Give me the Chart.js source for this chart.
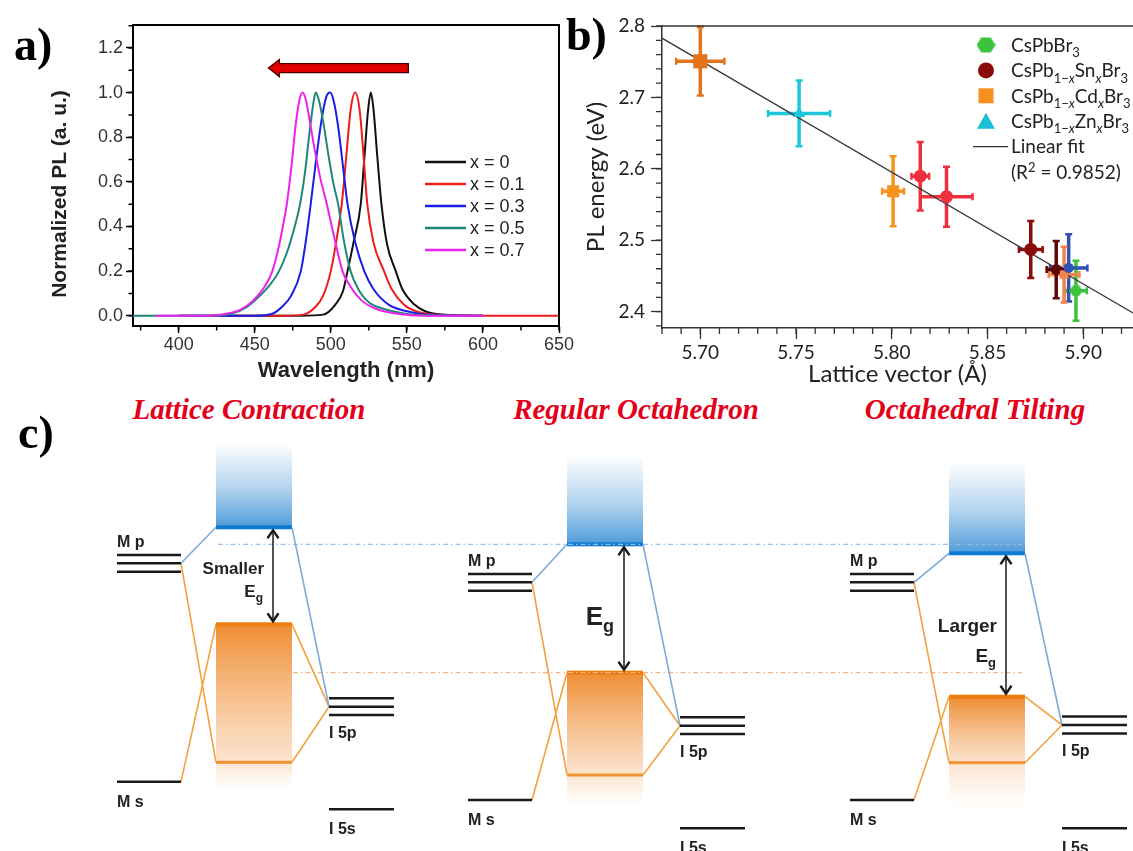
<!DOCTYPE html>
<html>
<head>
<meta charset="utf-8">
<title>PL shift and band-gap schemes</title>
<script src="https://cdn.jsdelivr.net/npm/chart.js@4.4.1/dist/chart.umd.min.js"></script>
<style>
  html, body { margin: 0; padding: 0; background: #fff; }
  #page { position: relative; width: 1133px; height: 851px; overflow: hidden; }
  #page canvas { position: absolute; }
  .panel-tag { position: absolute; font: bold 46px "Liberation Serif", serif; line-height: 1; color: #000; }
  .scheme-title { position: absolute; top: 395px; font: italic bold 29px "Liberation Serif", serif; color: #e4001b;
                  white-space: nowrap; transform: translateX(-50%); line-height: 1; }
</style>
</head>
<body>
<div id="page">
  <canvas id="chartA" width="585" height="392" style="left:0;top:0"></canvas>
  <canvas id="chartB" width="573" height="392" style="left:560px;top:0"></canvas>
  <canvas id="chartC" width="1133" height="421" style="left:0;top:430px"></canvas>
  <div class="panel-tag" style="left:14px;top:22px">a)</div>
  <div class="panel-tag" style="left:566px;top:12px">b)</div>
  <div class="panel-tag" style="left:18px;top:410px">c)</div>
  <div class="scheme-title" style="left:249px">Lattice Contraction</div>
  <div class="scheme-title" style="left:636px">Regular Octahedron</div>
  <div class="scheme-title" style="left:975px">Octahedral Tilting</div>
</div>
<script>
// =====================================================================
// a) normalized PL spectra, one curve per composition
// =====================================================================
var wlX0 = [400, 480, 495, 503, 508, 511, 515, 519.7, 522, 524.5, 526.3, 528, 530.5, 533.3, 537, 542.7, 547, 555, 562, 575, 600];
var plX0 = [0, 0, 0.005, 0.05, 0.11, 0.2, 0.33, 0.5, 0.7, 0.92, 1.0, 0.93, 0.72, 0.5, 0.32, 0.2, 0.12, 0.05, 0.02, 0.004, 0];

var wlX01 = [420, 470, 482, 490, 495, 500, 503.5, 507.2, 510, 513, 516, 519, 521.5, 524, 528, 535, 540, 548, 556, 570, 600, 650];
var plX01 = [0, 0, 0.005, 0.04, 0.09, 0.2, 0.33, 0.5, 0.7, 0.92, 1.0, 0.92, 0.72, 0.5, 0.33, 0.2, 0.12, 0.05, 0.02, 0.004, 0, 0];

var wlX03 = [400, 450, 462, 468, 474, 480.3, 483.5, 486.8, 490, 494, 497, 499.6, 502, 505, 508, 511, 516, 522, 528, 538, 550, 565, 600];
var plX03 = [0, 0, 0.01, 0.04, 0.09, 0.2, 0.33, 0.5, 0.68, 0.88, 0.98, 1.0, 0.96, 0.84, 0.67, 0.5, 0.33, 0.2, 0.12, 0.05, 0.02, 0.004, 0];

var wlX05 = [370, 420, 435, 445, 452, 459, 466, 471, 475.5, 479.8, 483, 486, 488.5, 490.1, 492, 495, 498, 501.5, 504.8, 508.5, 513, 518, 525, 535, 548, 565, 600];
var plX05 = [0, 0, 0.01, 0.04, 0.08, 0.13, 0.2, 0.28, 0.38, 0.5, 0.64, 0.82, 0.95, 1.0, 0.97, 0.87, 0.74, 0.6, 0.5, 0.34, 0.2, 0.12, 0.06, 0.03, 0.01, 0.002, 0];

var wlX07 = [385, 420, 432, 440, 446, 452, 456.5, 461.6, 465.5, 468.5, 471.1, 474, 477, 479.5, 481.4, 483.5, 486, 489, 493, 497.4, 502, 507.7, 513, 520, 530, 545, 560, 600];
var plX07 = [0, 0, 0.01, 0.025, 0.05, 0.09, 0.13, 0.2, 0.3, 0.4, 0.5, 0.66, 0.86, 0.97, 1.0, 0.97, 0.88, 0.76, 0.62, 0.5, 0.36, 0.2, 0.13, 0.07, 0.03, 0.008, 0, 0];

var specLabels = ['x = 0', 'x = 0.1', 'x = 0.3', 'x = 0.5', 'x = 0.7'];
var specWl = [wlX0, wlX01, wlX03, wlX05, wlX07];
var specPl = [plX0, plX01, plX03, plX05, plX07];
var specColors = ['#111111', '#ee1c1c', '#1c1ce6', '#1f8778', '#ee22ee'];

var wlTicks = [400, 450, 500, 550, 600, 650];
var plTicks = [0, 0.2, 0.4, 0.6, 0.8, 1.0, 1.2];
var shiftArrow = [551, 459];   // blue-shift arrow, from / to (nm)
var shiftArrowLevel = 1.11;

// =====================================================================
// b) PL energy vs lattice vector, with error bars
// =====================================================================
var latCs = [5.8962];            var eCs = [2.4292];
var errXCs = [0.0057];           var errYCs = [0.042];
var latSn = [5.8726, 5.8859];    var eSn = [2.487, 2.4588];
var errXSn = [0.0062, 0.005];    var errYSn = [0.04, 0.04];
var latCd = [5.700, 5.8007, 5.890]; var eCd = [2.7506, 2.5685, 2.4518];
var errXCd = [0.0126, 0.0057, 0.008]; var errYCd = [0.048, 0.049, 0.039];
var latZn = [5.7516];            var eZn = [2.6776];
var errXZn = [0.0162];           var errYZn = [0.046];
var latRed = [5.8149, 5.8286];   var eRed = [2.5896, 2.5609];
var errXRed = [0.0046, 0.0136];  var errYRed = [0.048, 0.042];
var latBlue = [5.8924];          var eBlue = [2.4612];
var errXBlue = [0.0098];         var errYBlue = [0.047];
var fitLat = [5.68, 5.926];      var fitE = [2.783, 2.398];

var latTicks = [5.70, 5.75, 5.80, 5.85, 5.90];
var eTicks = [2.4, 2.5, 2.6, 2.7, 2.8];

// =====================================================================
// c) level schemes (energies in arbitrary units, higher = up)
// =====================================================================
var metalP  = [287.7, 268.7, 268.7];
var metalS  = [69.3, 51, 51];
var iodineP = [144.3, 125.3, 126];
var iodineS = [41.7, 22.7, 22.7];
var cbMin   = [323.7, 306.7, 297.7];
var cbTop   = [408, 396, 389];
var vbMax   = [226.7, 178.3, 154.3];
var vbLow   = [88.7, 76, 88.3];
var vbTail  = [61, 44.3, 41];
var gapWords = ['Smaller', '', 'Larger'];

Chart.defaults.font.family = '"Liberation Sans", Arial, sans-serif';
Chart.defaults.animation = false;

function pts(xs, ys) { return xs.map(function (v, i) { return { x: v, y: ys[i] }; }); }

// fixed axis box, no extra room reserved for edge labels
function fixedBox(size) {
  return function (s) {
    if (s.isHorizontal()) s.height = size; else s.width = size;
    s.paddingLeft = s.paddingRight = s.paddingTop = s.paddingBottom = 0;
  };
}

// ---------- shared plugins ----------
var minorTicks = {
  id: 'minorTicks',
  afterDraw: function (chart, args, o) {
    var ctx = chart.ctx, sx = chart.scales.x, sy = chart.scales.y, k;
    ctx.save();
    ctx.strokeStyle = o.color; ctx.lineWidth = o.width;
    ctx.beginPath();
    for (k = Math.ceil(sx.min / o.xStep - 1e-6); k * o.xStep <= sx.max + 1e-9; k++) {
      var px = sx.getPixelForValue(k * o.xStep);
      ctx.moveTo(px, sx.top); ctx.lineTo(px, sx.top + o.length);
    }
    for (k = Math.ceil(sy.min / o.yStep - 1e-6); k * o.yStep <= sy.max + 1e-9; k++) {
      var py = sy.getPixelForValue(k * o.yStep);
      ctx.moveTo(sy.right, py); ctx.lineTo(sy.right - o.length, py);
    }
    ctx.stroke();
    ctx.restore();
  }
};

var frame = {
  id: 'frame',
  afterDraw: function (chart, args, o) {
    var ctx = chart.ctx, a = chart.chartArea;
    ctx.save();
    ctx.strokeStyle = o.color; ctx.lineWidth = o.width;
    ctx.beginPath();
    ctx.moveTo(a.left, a.top); ctx.lineTo(a.right, a.top);
    if (o.right) ctx.lineTo(a.right, a.bottom);
    ctx.stroke();
    ctx.restore();
  }
};

// rotated caption for the value axis
var yCaption = {
  id: 'yCaption',
  afterDraw: function (chart, args, o) {
    var ctx = chart.ctx;
    ctx.save();
    ctx.translate(o.x, o.y); ctx.rotate(-Math.PI / 2);
    ctx.font = o.font; ctx.fillStyle = o.color;
    ctx.textAlign = 'center'; ctx.textBaseline = 'middle';
    ctx.fillText(o.text, 0, 0);
    ctx.restore();
  }
};

// text with sub/superscripts: parts = [[text, kind]], kind '' | 's' | 'si' | 'p'
function drawRich(ctx, parts, x, y, size, family, color) {
  var cx = x;
  ctx.fillStyle = color; ctx.textBaseline = 'alphabetic'; ctx.textAlign = 'left';
  parts.forEach(function (p) {
    var t = p[0], k = p[1];
    var fs = k ? Math.round(size * 0.68) : size;
    ctx.font = (k.indexOf('i') >= 0 ? 'italic ' : '') + fs + 'px ' + family;
    var dy = k.charAt(0) === 's' ? size * 0.28 : (k === 'p' ? -size * 0.38 : 0);
    ctx.fillText(t, cx, y + dy);
    cx += ctx.measureText(t).width;
  });
  return cx - x;
}

// ---------- panel a ----------
var specLegend = {
  id: 'specLegend',
  afterDraw: function (chart) {
    var ctx = chart.ctx;
    ctx.save();
    specLabels.forEach(function (lab, i) {
      var y = 162 + i * 22;
      ctx.strokeStyle = specColors[i]; ctx.lineWidth = 2.5;
      ctx.beginPath(); ctx.moveTo(425, y); ctx.lineTo(466, y); ctx.stroke();
      ctx.fillStyle = '#222'; ctx.font = '18px "Liberation Sans"';
      ctx.textBaseline = 'middle'; ctx.textAlign = 'left';
      ctx.fillText(lab, 470, y + 1);
    });
    ctx.restore();
  }
};

var blueShiftArrow = {
  id: 'blueShiftArrow',
  afterDraw: function (chart) {
    var ctx = chart.ctx, sx = chart.scales.x, sy = chart.scales.y;
    var xt = sx.getPixelForValue(shiftArrow[0]), xh = sx.getPixelForValue(shiftArrow[1]);
    var yc = sy.getPixelForValue(shiftArrowLevel);
    var hb = 4.5, hh = 8.5, hl = 11;
    ctx.save();
    ctx.beginPath();
    ctx.moveTo(xt, yc - hb); ctx.lineTo(xh + hl, yc - hb); ctx.lineTo(xh + hl, yc - hh);
    ctx.lineTo(xh, yc); ctx.lineTo(xh + hl, yc + hh); ctx.lineTo(xh + hl, yc + hb);
    ctx.lineTo(xt, yc + hb); ctx.closePath();
    ctx.fillStyle = '#e10000'; ctx.fill();
    ctx.strokeStyle = '#4a0000'; ctx.lineWidth = 1.3; ctx.stroke();
    ctx.restore();
  }
};

new Chart(document.getElementById('chartA'), {
  type: 'scatter',
  data: {
    datasets: specLabels.map(function (lab, i) {
      return {
        label: lab, data: pts(specWl[i], specPl[i]), showLine: true,
        borderColor: specColors[i], borderWidth: 2, pointRadius: 0,
        cubicInterpolationMode: 'monotone', order: 5 - i
      };
    })
  },
  options: {
    responsive: false, events: [],
    layout: { autoPadding: false, padding: { left: 0, top: 25, right: 26, bottom: 0 } },
    scales: {
      x: {
        type: 'linear', min: 370, max: 650,
        afterBuildTicks: function (s) { s.ticks = wlTicks.map(function (v) { return { value: v }; }); },
        afterFit: fixedBox(66),
        grid: { drawOnChartArea: false, tickLength: 7, tickWidth: 1.5, tickColor: '#000' },
        border: { color: '#000', width: 2 },
        ticks: { color: '#333', font: { size: 18 }, padding: 1, maxRotation: 0 },
        title: { display: true, text: 'Wavelength (nm)', color: '#222',
                 font: { size: 22, weight: 'bold' }, padding: { top: 0, bottom: 8 } }
      },
      y: {
        type: 'linear', min: -0.046, max: 1.303,
        afterBuildTicks: function (s) { s.ticks = plTicks.map(function (v) { return { value: v }; }); },
        afterFit: fixedBox(133),
        grid: { drawOnChartArea: false, tickLength: 7, tickWidth: 1.5, tickColor: '#000' },
        border: { color: '#000', width: 2 },
        ticks: { color: '#333', font: { size: 18 }, padding: 3, callback: function (v) { return v.toFixed(1); } }
      }
    },
    plugins: {
      legend: { display: false }, tooltip: { enabled: false },
      minorTicks: { xStep: 25, yStep: 0.1, length: 4.5, width: 1.5, color: '#000' },
      frame: { color: '#000', width: 2, right: true },
      yCaption: { text: 'Normalized PL (a. u.)', x: 60, y: 194, font: 'bold 21px "Liberation Sans"', color: '#222' }
    }
  },
  plugins: [minorTicks, frame, yCaption, specLegend, blueShiftArrow]
});

// ---------- panel b ----------
function hexMarker(size, color) {
  var c = document.createElement('canvas');
  c.width = c.height = size;
  var g = c.getContext('2d'), r = size / 2;
  g.fillStyle = color;
  g.beginPath();
  for (var k = 0; k < 6; k++) {
    var a = Math.PI / 3 * k;
    var px = r + r * Math.cos(a), py = r + r * 0.92 * Math.sin(a);
    if (k) g.lineTo(px, py); else g.moveTo(px, py);
  }
  g.closePath(); g.fill();
  return c;
}
var hexPoint = hexMarker(13, '#3cc23c');
var hexLegend = hexMarker(19, '#3cc23c');

var errorBars = {
  id: 'errorBars',
  beforeDatasetsDraw: function (chart) {
    var ctx = chart.ctx, sx = chart.scales.x, sy = chart.scales.y;
    ctx.save();
    chart.data.datasets.forEach(function (ds) {
      if (!ds.errX) return;
      ds.data.forEach(function (p, j) {
        var col = Array.isArray(ds.pointBackgroundColor) ? ds.pointBackgroundColor[j] : ds.pointBackgroundColor;
        var cx = sx.getPixelForValue(p.x), cy = sy.getPixelForValue(p.y);
        var x0 = sx.getPixelForValue(p.x - ds.errX[j]), x1 = sx.getPixelForValue(p.x + ds.errX[j]);
        var y0 = sy.getPixelForValue(p.y - ds.errY[j]), y1 = sy.getPixelForValue(p.y + ds.errY[j]);
        ctx.strokeStyle = col;
        ctx.lineWidth = 3.5;
        ctx.beginPath();
        ctx.moveTo(x0, cy); ctx.lineTo(x1, cy);
        ctx.moveTo(cx, y0); ctx.lineTo(cx, y1);
        ctx.stroke();
        ctx.lineWidth = 2.5;
        ctx.beginPath();
        ctx.moveTo(x0, cy - 3.5); ctx.lineTo(x0, cy + 3.5);
        ctx.moveTo(x1, cy - 3.5); ctx.lineTo(x1, cy + 3.5);
        ctx.moveTo(cx - 3.5, y0); ctx.lineTo(cx + 3.5, y0);
        ctx.moveTo(cx - 3.5, y1); ctx.lineTo(cx + 3.5, y1);
        ctx.stroke();
      });
    });
    ctx.restore();
  }
};

var compLegend = {
  id: 'compLegend',
  afterDraw: function (chart) {
    var ctx = chart.ctx, fam = 'Lato, "Open Sans", sans-serif', fs = 19;
    var mx = 426, tx = 451;
    var rows = [45, 70.4, 95.8, 121.2, 146.6, 172];
    ctx.save();
    ctx.drawImage(hexLegend, mx - 9.5, rows[0] - 9.5);
    ctx.fillStyle = '#8b0b0b';
    ctx.beginPath(); ctx.arc(mx, rows[1], 8, 0, Math.PI * 2); ctx.fill();
    ctx.fillStyle = '#f7901e';
    ctx.fillRect(mx - 7.5, rows[2] - 7.5, 15, 15);
    ctx.fillStyle = '#19bfd6';
    ctx.beginPath(); ctx.moveTo(mx, rows[3] - 8.5); ctx.lineTo(mx + 9, rows[3] + 7.5); ctx.lineTo(mx - 9, rows[3] + 7.5); ctx.closePath(); ctx.fill();
    ctx.strokeStyle = '#333'; ctx.lineWidth = 1.3;
    ctx.beginPath(); ctx.moveTo(413, rows[4]); ctx.lineTo(448, rows[4]); ctx.stroke();
    var base = 6.8, col = '#222';
    drawRich(ctx, [['CsPbBr', ''], ['3', 's']], tx, rows[0] + base, fs, fam, col);
    drawRich(ctx, [['CsPb', ''], ['1\u2212', 's'], ['x', 'si'], ['Sn', ''], ['x', 'si'], ['Br', ''], ['3', 's']], tx, rows[1] + base, fs, fam, col);
    drawRich(ctx, [['CsPb', ''], ['1\u2212', 's'], ['x', 'si'], ['Cd', ''], ['x', 'si'], ['Br', ''], ['3', 's']], tx, rows[2] + base, fs, fam, col);
    drawRich(ctx, [['CsPb', ''], ['1\u2212', 's'], ['x', 'si'], ['Zn', ''], ['x', 'si'], ['Br', ''], ['3', 's']], tx, rows[3] + base, fs, fam, col);
    drawRich(ctx, [['Linear fit', '']], tx, rows[4] + base, fs, fam, col);
    drawRich(ctx, [['(R', ''], ['2', 'p'], [' = 0.9852)', '']], tx, rows[5] + base, fs, fam, col);
    ctx.restore();
  }
};

new Chart(document.getElementById('chartB'), {
  type: 'scatter',
  data: {
    datasets: [
      { label: 'CsPbBr3', data: pts(latCs, eCs), errX: errXCs, errY: errYCs,
        pointStyle: hexPoint, pointBackgroundColor: '#3cc23c', pointBorderWidth: 0 },
      { label: 'blue set', data: pts(latBlue, eBlue), errX: errXBlue, errY: errYBlue,
        pointStyle: 'circle', pointRadius: 5, pointBackgroundColor: '#2f52b4', pointBorderWidth: 0 },
      { label: 'CsPb1-xCdxBr3', data: pts(latCd, eCd), errX: errXCd, errY: errYCd,
        pointStyle: 'rect', pointRadius: [10, 8.5, 6], pointBackgroundColor: ['#e3741b', '#f7921f', '#f4844a'], pointBorderWidth: 0 },
      { label: 'CsPb1-xSnxBr3', data: pts(latSn, eSn), errX: errXSn, errY: errYSn,
        pointStyle: 'circle', pointRadius: [6.5, 5.5], pointBackgroundColor: ['#8b0b0b', '#5e0606'], pointBorderWidth: 0 },
      { label: 'red set', data: pts(latRed, eRed), errX: errXRed, errY: errYRed,
        pointStyle: 'circle', pointRadius: 6.5, pointBackgroundColor: '#ee2f3e', pointBorderWidth: 0 },
      { label: 'CsPb1-xZnxBr3', data: pts(latZn, eZn), errX: errXZn, errY: errYZn,
        pointStyle: 'triangle', pointRadius: 7, pointBackgroundColor: '#1ec6da', pointBorderWidth: 0 },
      { label: 'Linear fit', data: pts(fitLat, fitE), showLine: true, pointRadius: 0,
        borderColor: '#3a3a3a', borderWidth: 1.3 }
    ]
  },
  options: {
    responsive: false, events: [],
    layout: { autoPadding: false, padding: { left: 0, top: 26, right: 0, bottom: 0 } },
    scales: {
      x: {
        type: 'linear', min: 5.68, max: 5.926,
        afterBuildTicks: function (s) { s.ticks = latTicks.map(function (v) { return { value: v }; }); },
        afterFit: fixedBox(64),
        grid: { drawOnChartArea: false, tickLength: 11, tickWidth: 1.3, tickColor: '#333' },
        border: { color: '#333', width: 1.5 },
        ticks: { color: '#222', font: { family: 'Lato', size: 19 }, padding: 2, maxRotation: 0,
                 callback: function (v) { return v.toFixed(2); } },
        title: { display: true, text: 'Lattice vector (\u00C5)', color: '#222',
                 font: { family: 'Lato', size: 24 }, padding: { top: 0, bottom: 3 } }
      },
      y: {
        type: 'linear', min: 2.377, max: 2.8,
        afterBuildTicks: function (s) { s.ticks = eTicks.map(function (v) { return { value: v }; }); },
        afterFit: fixedBox(102),
        grid: { drawOnChartArea: false, tickLength: 11, tickWidth: 1.3, tickColor: '#333' },
        border: { color: '#333', width: 1.5 },
        ticks: { color: '#222', font: { family: 'Lato', size: 19 }, padding: 6,
                 callback: function (v) { return v.toFixed(1); } },
        title: { display: true, text: 'PL energy (eV)', color: '#222',
                 font: { family: 'Lato', size: 24 }, padding: { top: 22, bottom: 0 } }
      }
    },
    plugins: {
      legend: { display: false }, tooltip: { enabled: false },
      minorTicks: { xStep: 0.01, yStep: 0.02, length: 6, width: 1.3, color: '#333' },
      frame: { color: '#333', width: 1.5, right: false }
    }
  },
  plugins: [errorBars, minorTicks, frame, compLegend]
});

// ---------- panel c ----------
var subGap = 8.4;                       // spacing of the three p sub-levels
var colLeft = [117, 468, 850];          // left edge of each scheme
var metalW = 64, bandL = 99, bandR = 175, iodL = 212, iodR = 277, arrowDx = 156;
var gapLabelE = [[281.7, 258.3], [232.7], [224.3, 194.3]];
var gapLabelSize = [17, 26, 19];

function seg(list, x0, y0, x1, y1) { list.push({ x: x0, y: y0 }, { x: x1, y: y1 }, { x: x1, y: null }); }

var levelSegs = [], cbLinks = [], vbLinks = [];
colLeft.forEach(function (L, i) {
  [-1, 0, 1].forEach(function (d) {
    seg(levelSegs, L, metalP[i] + d * subGap, L + metalW, metalP[i] + d * subGap);
    seg(levelSegs, L + iodL, iodineP[i] + d * subGap, L + iodR, iodineP[i] + d * subGap);
  });
  seg(levelSegs, L, metalS[i], L + metalW, metalS[i]);
  seg(levelSegs, L + iodL, iodineS[i], L + iodR, iodineS[i]);
  seg(cbLinks, L + metalW, metalP[i], L + bandL, cbMin[i]);
  seg(cbLinks, L + bandR, cbMin[i], L + iodL, iodineP[i]);
  seg(vbLinks, L + metalW, metalP[i], L + bandL, vbLow[i]);
  seg(vbLinks, L + metalW, metalS[i], L + bandL, vbMax[i]);
  seg(vbLinks, L + bandR, vbMax[i], L + iodL, iodineP[i]);
  seg(vbLinks, L + bandR, vbLow[i], L + iodL, iodineP[i]);
});
var refX = [colLeft[0] + bandL + 2, colLeft[2] + bandR - 3];

var bands = {
  id: 'bands',
  beforeDatasetsDraw: function (chart) {
    var ctx = chart.ctx, sx = chart.scales.x, sy = chart.scales.y;
    ctx.save();
    colLeft.forEach(function (L, i) {
      var x0 = sx.getPixelForValue(L + bandL), x1 = sx.getPixelForValue(L + bandR), w = x1 - x0;
      // conduction band
      var yt = sy.getPixelForValue(cbTop[i]), yb = sy.getPixelForValue(cbMin[i]);
      var g = ctx.createLinearGradient(0, yt, 0, yb);
      g.addColorStop(0, 'rgba(80,155,218,0)');
      g.addColorStop(0.55, 'rgba(80,155,218,0.45)');
      g.addColorStop(1, 'rgba(70,150,215,0.95)');
      ctx.fillStyle = g; ctx.fillRect(x0, yt, w, yb - yt);
      ctx.fillStyle = '#0c7bd1'; ctx.fillRect(x0, yb - 2, w, 4);
      // valence band
      var vt = sy.getPixelForValue(vbMax[i]), vl = sy.getPixelForValue(vbLow[i]), vf = sy.getPixelForValue(vbTail[i]);
      var h = ctx.createLinearGradient(0, vt, 0, vf);
      h.addColorStop(0, 'rgba(237,135,38,0.95)');
      h.addColorStop((vl - vt) / (vf - vt), 'rgba(244,165,95,0.3)');
      h.addColorStop(1, 'rgba(250,200,150,0)');
      ctx.fillStyle = h; ctx.fillRect(x0, vt, w, vf - vt);
      ctx.fillStyle = '#ec7d0e'; ctx.fillRect(x0, vt - 2, w, 4);
      ctx.fillStyle = 'rgba(238,138,38,0.9)'; ctx.fillRect(x0, vl - 1.5, w, 3);
    });
    ctx.restore();
  },
  afterDatasetsDraw: function (chart) {
    var ctx = chart.ctx, sx = chart.scales.x, sy = chart.scales.y;
    ctx.save();
    colLeft.forEach(function (L, i) {
      // band-gap double arrow
      var ax = sx.getPixelForValue(L + arrowDx);
      var ya = sy.getPixelForValue(cbMin[i]) + 3, yb = sy.getPixelForValue(vbMax[i]) - 3;
      ctx.strokeStyle = '#1a1a1a'; ctx.lineWidth = 1.5;
      ctx.beginPath(); ctx.moveTo(ax, ya + 1); ctx.lineTo(ax, yb - 1); ctx.stroke();
      ctx.lineWidth = 2.4; ctx.lineJoin = 'miter';
      ctx.beginPath();
      ctx.moveTo(ax - 5.5, ya + 8); ctx.lineTo(ax, ya); ctx.lineTo(ax + 5.5, ya + 8);
      ctx.moveTo(ax - 5.5, yb - 8); ctx.lineTo(ax, yb); ctx.lineTo(ax + 5.5, yb - 8);
      ctx.stroke();

      // level names
      ctx.fillStyle = '#222'; ctx.textAlign = 'left'; ctx.textBaseline = 'alphabetic';
      ctx.font = 'bold 16px "Liberation Sans"';
      var lx = sx.getPixelForValue(L), ix = sx.getPixelForValue(L + iodL);
      ctx.fillText('M p', lx, sy.getPixelForValue(metalP[i] + subGap) - 8);
      ctx.fillText('M s', lx, sy.getPixelForValue(metalS[i]) + 25);
      ctx.fillText('I 5p', ix, sy.getPixelForValue(iodineP[i] - subGap) + 23);
      ctx.fillText('I 5s', ix, sy.getPixelForValue(iodineS[i]) + 25);

      // gap label
      var fs = gapLabelSize[i], right = ax - 10, rows = gapLabelE[i], r = 0;
      if (gapWords[i]) {
        ctx.font = 'bold ' + fs + 'px "Liberation Sans"';
        ctx.textAlign = 'right'; ctx.textBaseline = 'middle';
        ctx.fillText(gapWords[i], right + 1, sy.getPixelForValue(rows[0]));
        r = 1;
      }
      var ey = sy.getPixelForValue(rows[r]);
      ctx.textAlign = 'left'; ctx.textBaseline = 'middle';
      ctx.font = 'bold ' + Math.round(fs * 0.7) + 'px "Liberation Sans"';
      var gw = ctx.measureText('g').width;
      ctx.font = 'bold ' + fs + 'px "Liberation Sans"';
      var ew = ctx.measureText('E').width;
      ctx.fillText('E', right - gw - ew, ey);
      ctx.font = 'bold ' + Math.round(fs * 0.7) + 'px "Liberation Sans"';
      ctx.fillText('g', right - gw, ey + fs * 0.35);
    });
    ctx.restore();
  }
};

new Chart(document.getElementById('chartC'), {
  type: 'scatter',
  data: {
    datasets: [
      { label: 'levels', data: levelSegs, showLine: true, pointRadius: 0, borderColor: '#1a1a1a', borderWidth: 2.5, spanGaps: false },
      { label: 'CB links', data: cbLinks, showLine: true, pointRadius: 0, borderColor: '#7ea8da', borderWidth: 1.6, spanGaps: false },
      { label: 'VB links', data: vbLinks, showLine: true, pointRadius: 0, borderColor: '#f2a23f', borderWidth: 1.6, spanGaps: false },
      { label: 'CB reference', data: pts(refX, [cbMin[1], cbMin[1]]), showLine: true, pointRadius: 0,
        borderColor: '#93bfe8', borderWidth: 1.3, borderDash: [5, 3, 1.5, 3] },
      { label: 'VB reference', data: pts(refX, [vbMax[1], vbMax[1]]), showLine: true, pointRadius: 0,
        borderColor: '#f3b585', borderWidth: 1.3, borderDash: [5, 3, 1.5, 3] }
    ]
  },
  options: {
    responsive: false, events: [],
    layout: { autoPadding: false, padding: 0 },
    scales: {
      x: { type: 'linear', display: false, min: 0, max: 1133 },
      y: { type: 'linear', display: false, min: 0, max: 421 }
    },
    plugins: { legend: { display: false }, tooltip: { enabled: false } }
  },
  plugins: [bands]
});
</script>
</body>
</html>
